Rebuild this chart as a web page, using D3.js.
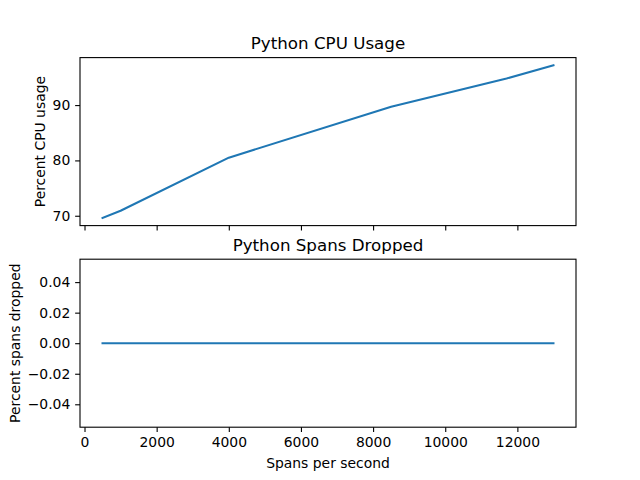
<!DOCTYPE html>
<html><head><meta charset="utf-8">
<script src="https://cdn.jsdelivr.net/npm/d3@7"></script>
<style>
body{margin:0;background:#fff;}
text{font-family:"DejaVu Sans",sans-serif;fill:#000;}
</style></head>
<body><svg id="c" width="640" height="480"></svg>
<script>
const spansPerSecond = [500, 1000, 4000, 8500, 11700, 13000];
const cpuUsage = [69.6, 70.9, 80.5, 89.7, 94.8, 97.2];
const spansDropped = [0, 0, 0, 0, 0, 0];
const xTicks = [0, 2000, 4000, 6000, 8000, 10000, 12000];
const cpuTicks = [70, 80, 90];
const dropTicks = [-0.04, -0.02, 0, 0.02, 0.04];
const titles = ["Python CPU Usage", "Python Spans Dropped"];
const yLabels = ["Percent CPU usage", "Percent spans dropped"];
const xLabel = "Spans per second";

const svg = d3.select("#c");
const L = 80, R = 576, T1 = 57.6, B1 = 225.6, T2 = 259.2, B2 = 427.2;
const color = "#1f77b4";
const tickLen = 4.86, pad = 4.86;

const xmin = d3.min(spansPerSecond), xmax = d3.max(spansPerSecond);
const xm = (xmax - xmin) * 0.05;
const x = d3.scaleLinear().domain([xmin - xm, xmax + xm]).range([L, R]);

const cmin = d3.min(cpuUsage), cmax = d3.max(cpuUsage);
const cm = (cmax - cmin) * 0.05;
const y1 = d3.scaleLinear().domain([cmin - cm, cmax + cm]).range([B1, T1]);
const y2 = d3.scaleLinear().domain([-0.055, 0.055]).range([B2, T2]);

function panel(top, bottom, y, yt, yfmt, vals, title, ylab, ylx, showX) {
  const g = svg.append("g");
  const ya = g.append("g").attr("transform", `translate(${L},0)`)
    .call(d3.axisLeft(y).tickValues(yt).tickFormat(yfmt).tickSize(tickLen).tickPadding(pad).tickSizeOuter(0));
  ya.select(".domain").remove();
  ya.selectAll("line").attr("stroke", "#000").attr("stroke-width", 1.1);
  ya.selectAll("text").attr("font-size", "13.9px").attr("font-family", "DejaVu Sans");
  const xa = g.append("g").attr("transform", `translate(0,${bottom})`)
    .call(d3.axisBottom(x).tickValues(xTicks).tickFormat(showX ? d3.format("d") : "").tickSize(tickLen).tickPadding(pad).tickSizeOuter(0));
  xa.select(".domain").remove();
  xa.selectAll("line").attr("stroke", "#000").attr("stroke-width", 1.1);
  xa.selectAll("text").attr("font-size", "13.9px").attr("font-family", "DejaVu Sans");
  const line = d3.line().x((d, i) => x(spansPerSecond[i])).y(d => y(d));
  g.append("path").datum(vals).attr("d", line).attr("fill", "none")
    .attr("stroke", color).attr("stroke-width", 2.08).attr("stroke-linecap", "square").attr("stroke-linejoin", "round");
  g.append("rect").attr("x", L).attr("y", top).attr("width", R - L).attr("height", bottom - top)
    .attr("fill", "none").attr("stroke", "#000").attr("stroke-width", 1.1);
  g.append("text").attr("x", (L + R) / 2).attr("y", top - 8.3).attr("text-anchor", "middle")
    .attr("font-size", "16.7px").text(title);
  g.append("text").attr("transform", `translate(${ylx},${(top + bottom) / 2}) rotate(-90)`)
    .attr("text-anchor", "middle").attr("font-size", "13.9px").text(ylab);
}

panel(T1, B1, y1, cpuTicks, d3.format("d"), cpuUsage, titles[0], yLabels[0], 45, false);
panel(T2, B2, y2, dropTicks, d3.format(".2f"), spansDropped, titles[1], yLabels[1], 20, true);

svg.append("text").attr("x", (L + R) / 2).attr("y", 468).attr("text-anchor", "middle")
  .attr("font-size", "13.9px").text(xLabel);
</script></body></html>
